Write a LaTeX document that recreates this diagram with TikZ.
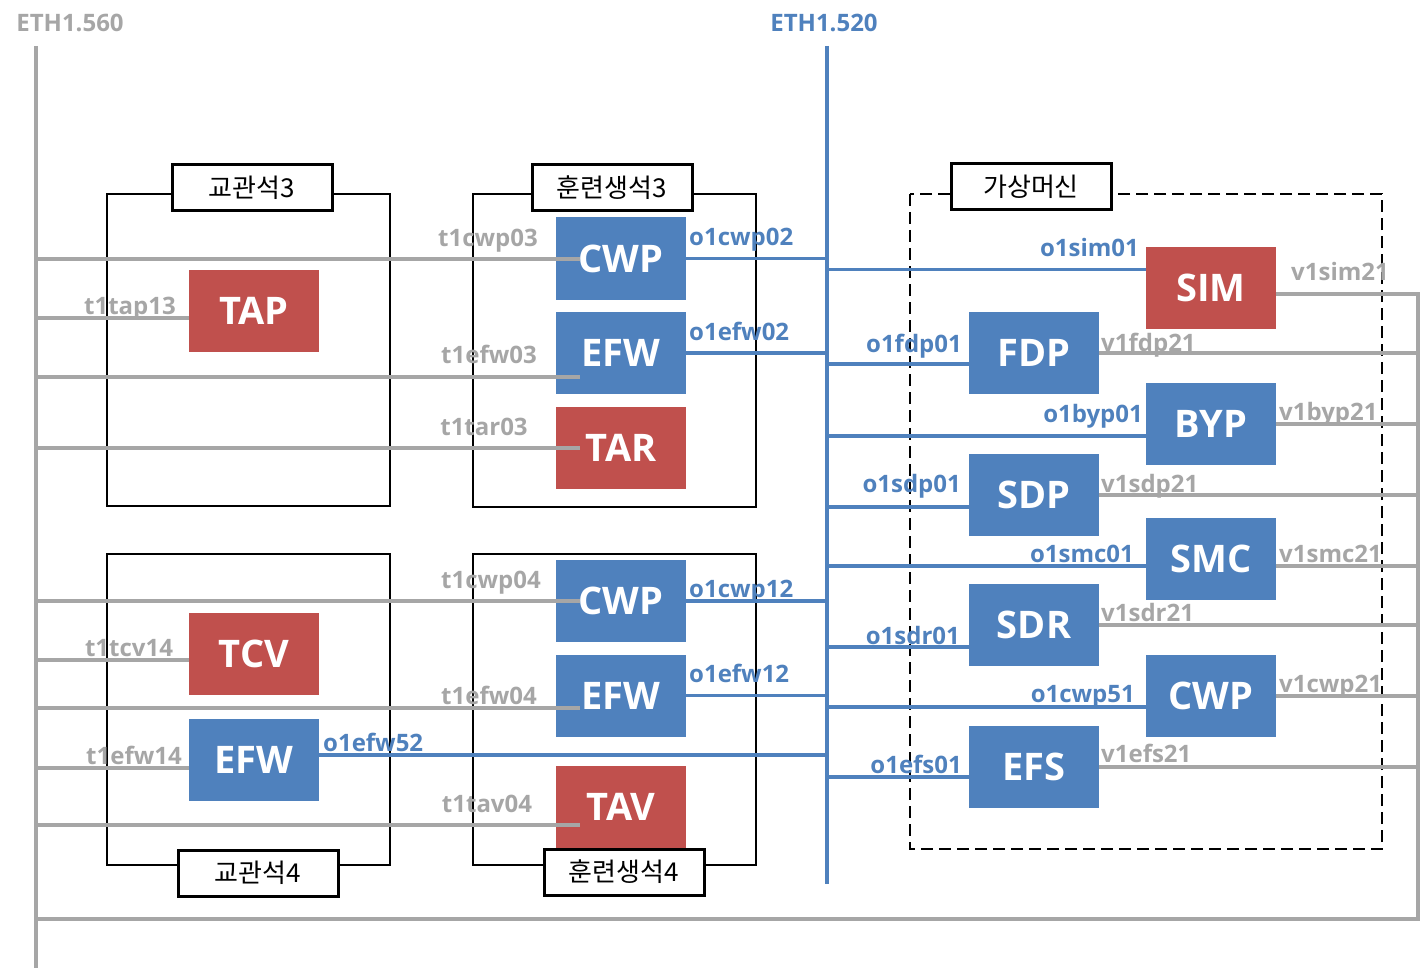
\documentclass[tikz,border=0pt]{standalone}
\usepackage{fontspec}
\setmainfont{Open Sans}
\newfontfamily\hangul{Noto Sans CJK KR}
\usetikzlibrary{positioning}
\definecolor{netblue}{HTML}{4F81BD}
\definecolor{netred}{HTML}{C0504D}
\definecolor{netgray}{HTML}{A6A6A6}

\begin{document}
\begin{tikzpicture}[
    x=1pt, y=-1pt,
    unit/.style={minimum width=130pt, minimum height=82pt, inner sep=0pt, text=white, font=\bfseries\fontsize{38}{38}\selectfont},
    blueunit/.style={unit, fill=netblue},
    redunit/.style={unit, fill=netred},
    seat/.style={draw, line width=2pt},
    vmbox/.style={draw, line width=2pt, dash pattern=on 12pt off 6pt},
    tag/.style={draw, line width=3pt, fill=white, minimum width=160pt, minimum height=46pt, inner sep=0pt, font=\hangul\fontsize{26}{26}\selectfont},
    gline/.style={netgray, line width=4pt},
    bline/.style={netblue, line width=3.5pt},
    glbl/.style={text=netgray, inner sep=0pt, font=\bfseries\fontsize{24}{24}\selectfont},
    blbl/.style={text=netblue, inner sep=0pt, font=\bfseries\fontsize{24}{24}\selectfont}
]
\useasboundingbox (0,0) rectangle (1420,968);

% Buses
\coordinate (g0) at (36,46);
\coordinate (g1) at (36,968);
\coordinate (g2) at (36,919);
\coordinate (b0) at (827,46);
\coordinate (b1) at (827,884);
\coordinate (r1) at (1418,919);
\node[glbl, anchor=base] (eth560) at (70,32) {ETH1.560};
\node[blbl, anchor=base] (eth520) at (824,32) {ETH1.520};

% Seats
\draw[seat] (107,194) rectangle (390,506);
\draw[seat] (473,194) rectangle (756,507);
\draw[seat] (107,554) rectangle (390,865);
\draw[seat] (473,554) rectangle (756,865);
\draw[vmbox] (910,194) rectangle (1382,849);

% Nodes
\node[redunit] (tap) at (254,311) {TAP};
\node[blueunit] (cwpA) at (621,258.5) {CWP};
\node[blueunit] (efwA) at (621,353) {EFW};
\node[redunit] (tar) at (621,447.5) {TAR};
\node[redunit] (tcv) at (254,653.5) {TCV};
\node[blueunit] (efwT) at (254,760) {EFW};
\node[blueunit] (cwpB) at (621,601) {CWP};
\node[blueunit] (efwB) at (621,695.5) {EFW};
\node[redunit] (tav) at (621,807) {TAV};

\node[redunit] (sim) at (1211,287.5) {SIM};
\node[blueunit] (fdp) at (1034,353) {FDP};
\node[blueunit] (byp) at (1211,424) {BYP};
\node[blueunit] (sdp) at (1034,495) {SDP};
\node[blueunit] (smc) at (1211,559) {SMC};
\node[blueunit] (sdr) at (1034,625) {SDR};
\node[blueunit] (cwpV) at (1211,696) {CWP};
\node[blueunit] (efs) at (1034,767) {EFS};

% Lines
\draw[gline] (g0) -- (g1);
\draw[bline, line width=4pt] (b0) -- (b1);

\draw[gline] ([xshift=24pt]cwpA.west) -| (g1);
\draw[gline] ([yshift=-7pt]tap.west) -| (g1);
\draw[gline] ([xshift=24pt, yshift=-24pt]efwA.west) -| (g1);
\draw[gline] ([xshift=24pt]tar.west) -| (g1);
\draw[gline] ([xshift=24pt]cwpB.west) -| (g1);
\draw[gline] ([yshift=-6pt]tcv.west) -| (g1);
\draw[gline] ([xshift=24pt, yshift=-12pt]efwB.west) -| (g1);
\draw[gline] ([yshift=-8pt]efwT.west) -| (g1);
\draw[gline] ([xshift=24pt, yshift=-18pt]tav.west) -| (g1);

\draw[bline] (cwpA.east) -| (b1);
\draw[bline] (efwA.east) -| (b1);
\draw[bline] (cwpB.east) -| (b1);
\draw[bline] (efwB.east) -| (b1);
\draw[bline] ([yshift=5pt]efwT.east) -| (b1);

\draw[bline] ([yshift=18pt]sim.west) -| (b1);
\draw[bline] ([yshift=-11pt]fdp.west) -| (b1);
\draw[bline] ([yshift=-12pt]byp.west) -| (b1);
\draw[bline] ([yshift=-12pt]sdp.west) -| (b1);
\draw[bline] ([yshift=-7pt]smc.west) -| (b1);
\draw[bline] ([yshift=-22pt]sdr.west) -| (b1);
\draw[bline] ([yshift=-11pt]cwpV.west) -| (b1);
\draw[bline] ([yshift=-10pt]efs.west) -| (b1);

\draw[gline] ([yshift=-6pt]sim.east) -| (r1) -- (g2);
\draw[gline] (fdp.east) -| (r1);
\draw[gline] (byp.east) -| (r1);
\draw[gline] (sdp.east) -| (r1);
\draw[gline] ([yshift=-7pt]smc.east) -| (r1);
\draw[gline] (sdr.east) -| (r1);
\draw[gline] (cwpV.east) -| (r1);
\draw[gline] (efs.east) -| (r1);

% Seat tags
\node[tag] (seatA) at (252,188) {교관석3};
\node[tag] (seatB) at (612,188) {훈련생석3};
\node[tag] (seatV) at (1031,187) {가상머신};
\node[tag] (seatC) at (258,873) {교관석4};
\node[tag] (seatD) at (624,872) {훈련생석4};

% Port labels
\node[glbl, anchor=base] (lcwp03) at (488,247) {t1cwp03};
\node[glbl, anchor=base] (ltap13) at (130,314) {t1tap13};
\node[glbl, anchor=base] (lefw03) at (489,363) {t1efw03};
\node[glbl, anchor=base] (ltar03) at (484,435) {t1tar03};
\node[glbl, anchor=base] (lcwp04) at (491,588) {t1cwp04};
\node[glbl, anchor=base] (ltcv14) at (129,656) {t1tcv14};
\node[glbl, anchor=base] (lefw04) at (489,704) {t1efw04};
\node[glbl, anchor=base] (lefw14) at (134,764) {t1efw14};
\node[glbl, anchor=base] (ltav04) at (487,812) {t1tav04};

\node[blbl, anchor=base west] (lcwp02) at (689,246) {o1cwp02};
\node[blbl, anchor=base west] (lefw02) at (689,340) {o1efw02};
\node[blbl, anchor=base west] (lcwp12) at (689,597) {o1cwp12};
\node[blbl, anchor=base west] (lefw12) at (689,682) {o1efw12};
\node[blbl, anchor=base west] (lefw52) at (323,751) {o1efw52};

\node[blbl, anchor=base east] (lsim01) at (1139,256) {o1sim01};
\node[blbl, anchor=base east] (lfdp01) at (962,352) {o1fdp01};
\node[blbl, anchor=base east] (lbyp01) at (1143,422) {o1byp01};
\node[blbl, anchor=base east] (lsdp01) at (961,492) {o1sdp01};
\node[blbl, anchor=base east] (lsmc01) at (1134,562) {o1smc01};
\node[blbl, anchor=base east] (lsdr01) at (960,644) {o1sdr01};
\node[blbl, anchor=base east] (lcwp51) at (1135,702) {o1cwp51};
\node[blbl, anchor=base east] (lefs01) at (962,773) {o1efs01};

\node[glbl, anchor=base west] (lsim21) at (1291,280) {v1sim21};
\node[glbl, anchor=base west] (lfdp21) at (1101,351) {v1fdp21};
\node[glbl, anchor=base west] (lbyp21) at (1279,420) {v1byp21};
\node[glbl, anchor=base west] (lsdp21) at (1101,492) {v1sdp21};
\node[glbl, anchor=base west] (lsmc21) at (1279,562) {v1smc21};
\node[glbl, anchor=base west] (lsdr21) at (1101,621) {v1sdr21};
\node[glbl, anchor=base west] (lcwp21) at (1279,692) {v1cwp21};
\node[glbl, anchor=base west] (lefs21) at (1101,762) {v1efs21};

\end{tikzpicture}
\end{document}
